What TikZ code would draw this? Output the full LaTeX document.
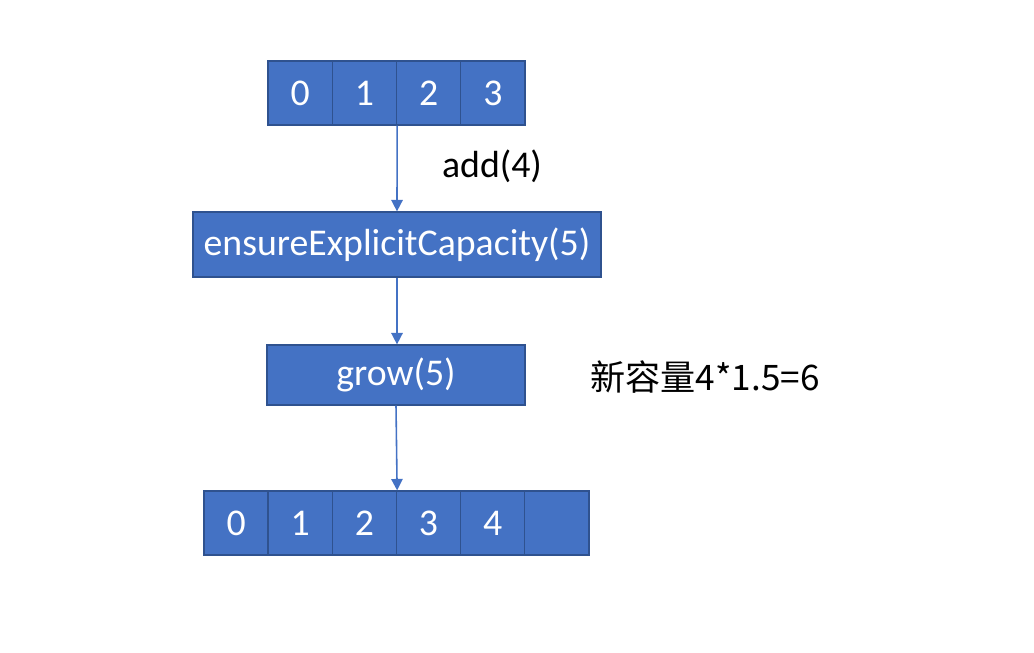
\documentclass[tikz,border=0pt]{standalone}
\usepackage{fontspec}
\setmainfont{Carlito}
\newfontfamily\cjk{Noto Sans CJK SC}
\usetikzlibrary{positioning,arrows.meta}
\definecolor{boxblue}{HTML}{4472C4}
\definecolor{boxline}{HTML}{2F528F}
\begin{document}
\begin{tikzpicture}[thick,
	  cell/.style={draw=boxline,fill=boxblue,text=white,line width=0.7pt,inner sep=0pt,
	    minimum width=1.285cm,minimum height=1.28cm,font=\fontsize{21.5}{24}\selectfont},
	  call node/.style={cell,minimum height=1.3cm},
	  flow/.style={draw=boxblue,line width=0.9pt,-{Triangle[width=6.5pt,length=6.5pt]}},
	  note/.style={font=\fontsize{21.5}{24}\selectfont}]
	  \useasboundingbox (0,0) rectangle (20.68,13.04);
	
	  % old array
	  \foreach \i in {0,...,3}
	    \node[cell] (t\i) at (6.0025+1.285*\i,11.18) {\i};
	
	  \node[call node,minimum width=8.16cm] (ensure) at (7.94,8.15) {ensureExplicitCapacity(5)};
	  \node[call node,minimum width=5.16cm,minimum height=1.2cm] (grow) at (7.92,5.54) {grow(5)};
	
	  % new array
	  \foreach \i/\t in {0/0,1/1,2/2,3/3,4/4,5/{}}
	    \node[cell] (b\i) at (4.7215+1.283*\i,2.58) {\t};
	
	  \node[note] (add) at (9.84,9.72) {add(4)};
	  \node[note,font=\cjk\fontsize{20}{24}\selectfont] (cap) at (14.1,5.5) {新容量4*1.5=6};
	
	  \path[flow] (t1.south east) -- (ensure.north);
	  \path[flow] (ensure.south) -- (ensure.south |- grow.north);
	  \path[flow] (grow.south) -- (b2.north east);
	
	\end{tikzpicture}
\end{document}
